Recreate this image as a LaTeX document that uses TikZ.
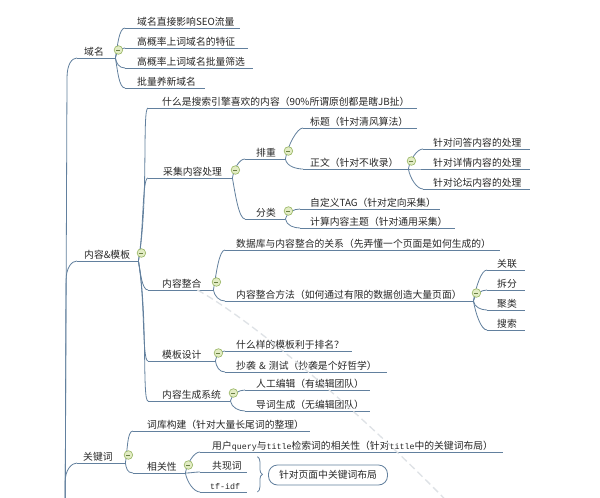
\documentclass[tikz,border=0pt]{standalone}
\usepackage{fontspec}
\setmainfont{Noto Sans CJK SC}
\newfontfamily\monof{Liberation Mono}[Scale=0.85]
\usepackage{tikz}
\usetikzlibrary{decorations.pathreplacing}

\definecolor{branchc}{RGB}{98,128,158}
\definecolor{foldfill}{RGB}{226,236,196}
\definecolor{folddraw}{RGB}{150,180,96}
\definecolor{relc}{RGB}{222,226,230}
\def\tpad{11pt}
\newcommand{\lat}[1]{{\monof #1}}

\tikzset{
	branch/.style={draw=branchc, line width=0.8pt},
	pad/.code={\def\tpad{#1}},
	topic/.style={anchor=south west, inner xsep=0pt, inner ysep=0.5pt,
		text height=8pt, text depth=2pt, text width=#1, align=left,
		text=black!85, font=\fontsize{9.8}{11}\selectfont, pad=11pt,
		execute at begin node=\hspace*{\tpad},
		append after command={(\tikzlastnode.south west) edge[branch] (\tikzlastnode.south east)}},
	kidup/.style={out=80, in=180, out looseness=1, in distance=6pt},
	kiddown/.style={out=-80, in=180, out looseness=1, in distance=6pt},
	kidflat/.style={out=0, in=180},
	trunk/.style={out=90, in=180, out distance=14pt, in distance=5pt},
	fold/.style={draw=folddraw, fill=foldfill, line width=0.6pt},
	foldbar/.style={draw=folddraw!70!black, line width=0.6pt},
	note/.style={draw=branchc, line width=0.8pt, rounded corners=9pt,
		minimum width=119pt, minimum height=20pt, inner sep=0pt,
		text=black!85, font=\fontsize{9.8}{11}\selectfont},
	relation/.style={draw=relc, line width=1.3pt, dash pattern=on 7pt off 4pt},
}

\begin{document}
\begin{tikzpicture}[x=1pt, y=-1pt]
	\useasboundingbox (0,0) rectangle (600,498);
	\fill[white] (0,0) rectangle (600,498);
	\clip (0,0) rectangle (600,498);
	%
	\coordinate (root) at (65,560);
	\coordinate (relend) at (470,525);
	%
	% first level
	\node[topic=38pt, pad=7pt] (dom) at (77,58) {域名};
	\node[topic=61pt, pad=7pt] (cont) at (77,261) {内容\&模板};
	\node[topic=48pt, pad=6pt] (kw) at (77,463) {关键词};
	%
	% domain
	\node[topic=115pt, pad=12pt] (d1) at (125,28) {域名直接影响SEO流量};
	\node[topic=123pt, pad=12pt] (d2) at (125,48) {高概率上词域名的特征};
	\node[topic=128pt, pad=12pt] (d3) at (125,68) {高概率上词域名批量筛选};
	\node[topic=80pt, pad=12pt] (d4) at (125,88) {批量养新域名};
	%
	% content and template
	\node[topic=269pt, pad=14pt] (what) at (148,108) {什么是搜索引擎喜欢的内容（90\%所谓原创都是瞎JB扯）};
	\node[topic=84pt, pad=15pt] (cjcl) at (148,178) {采集内容处理};
	\node[topic=65pt, pad=14pt] (zh) at (148,290) {内容整合};
	\node[topic=67pt, pad=14pt] (mb) at (148,361) {模板设计};
	\node[topic=82pt, pad=14pt] (sc) at (148,401) {内容生成系统};
	%
	\node[topic=40pt] (pc) at (245,159) {排重};
	\node[topic=40pt] (fl) at (245,219) {分类};
	\node[topic=114pt, pad=7pt] (bt) at (303,128) {标题（针对清风算法）};
	\node[topic=105pt, pad=7pt] (zw) at (303,169) {正文（针对不收录）};
	\node[topic=107pt, pad=10pt] (zw1) at (423,149) {针对问答内容的处理};
	\node[topic=107pt, pad=10pt] (zw2) at (423,169) {针对详情内容的处理};
	\node[topic=107pt, pad=10pt] (zw3) at (423,189) {针对论坛内容的处理};
	\node[topic=140pt, pad=10pt] (tag) at (300,209) {自定义TAG（针对定向采集）};
	\node[topic=155pt, pad=10pt] (zt) at (300,228) {计算内容主题（针对通用采集）};
	%
	\node[topic=275pt] (sjk) at (225,250) {数据库与内容整合的关系（先弄懂一个页面是如何生成的）};
	\node[topic=248pt] (zhff) at (225,301) {内容整合方法（如何通过有限的数据创造大量页面）};
	\node[topic=38pt, pad=10pt] (gl) at (487,270) {关联};
	\node[topic=38pt, pad=10pt] (cf) at (487,290) {拆分};
	\node[topic=38pt, pad=10pt] (jl) at (487,310) {聚类};
	\node[topic=38pt, pad=10pt] (ss) at (487,330) {搜索};
	%
	\node[topic=127pt] (mb1) at (225,351) {什么样的模板利于排名？};
	\node[topic=162pt] (mb2) at (225,372) {抄袭~\&~测试（抄袭是个好哲学）};
	\node[topic=125pt] (sc1) at (245,390) {人工编辑（有编辑团队）};
	\node[topic=125pt] (sc2) at (245,411) {导词生成（无编辑团队）};
	%
	% keywords
	\node[topic=177pt, pad=14pt] (ck) at (133,431) {词库构建（针对大量长尾词的整理）};
	\node[topic=52pt, pad=14pt] (xgx) at (133,473) {相关性};
	\node[topic=303pt, pad=12pt] (yh) at (200,452) {用户\lat{query}与\lat{title}检索词的相关性（针对\lat{title}中的关键词布局）};
	\node[topic=47pt, pad=12pt] (gxc) at (200,472) {共现词};
	\node[topic=47pt, pad=10pt] (tfidf) at (200,492) {\lat{tf-idf}};
	\node[note] (bj) at (328,475) {针对页面中关键词布局};
	%
	\path[relation] ([xshift=-16pt]zh.south east) .. controls (255,322) and (370,420) .. (relend);
	%
	\draw[branch] (root) -- ([shift={(-10pt,-20pt)}]dom.south west) to[trunk] (dom.south west);
	\draw[branch] (root) -- ([shift={(-11pt,-20pt)}]cont.south west) to[trunk] (cont.south west);
	\draw[branch] (root) -- ([shift={(-12pt,-20pt)}]kw.south west) to[trunk] (kw.south west);
	%
	\path[branch] (dom.south east) edge[kidup] (d1.south west);
	\path[branch] (dom.south east) edge[kidup] (d2.south west);
	\path[branch] (dom.south east) edge[kiddown] (d3.south west);
	\path[branch] (dom.south east) edge[kiddown] (d4.south west);
	%
	\path[branch] (cont.south east) edge[kidup] (what.south west);
	\path[branch] (cont.south east) edge[kidup] (cjcl.south west);
	\path[branch] (cont.south east) edge[kiddown] (zh.south west);
	\path[branch] (cont.south east) edge[kiddown] (mb.south west);
	\path[branch] (cont.south east) edge[kiddown] (sc.south west);
	\path[branch] (cjcl.south east) edge[kidup] (pc.south west);
	\path[branch] (cjcl.south east) edge[kiddown] (fl.south west);
	\path[branch] (pc.south east) edge[kidup] (bt.south west);
	\path[branch] (pc.south east) edge[kiddown] (zw.south west);
	\path[branch] (zw.south east) edge[kidup] (zw1.south west);
	\path[branch] (zw.south east) edge[kidflat] (zw2.south west);
	\path[branch] (zw.south east) edge[kiddown] (zw3.south west);
	\path[branch] (fl.south east) edge[kidup] (tag.south west);
	\path[branch] (fl.south east) edge[kiddown] (zt.south west);
	\path[branch] (zh.south east) edge[kidup] (sjk.south west);
	\path[branch] (zh.south east) edge[kiddown] (zhff.south west);
	\path[branch] (zhff.south east) edge[kidup] (gl.south west);
	\path[branch] (zhff.south east) edge[kidup] (cf.south west);
	\path[branch] (zhff.south east) edge[kiddown] (jl.south west);
	\path[branch] (zhff.south east) edge[kiddown] (ss.south west);
	\path[branch] (mb.south east) edge[kidup] (mb1.south west);
	\path[branch] (mb.south east) edge[kiddown] (mb2.south west);
	\path[branch] (sc.south east) edge[kidup] (sc1.south west);
	\path[branch] (sc.south east) edge[kiddown] (sc2.south west);
	%
	\path[branch] (kw.south east) edge[kidup] (ck.south west);
	\path[branch] (kw.south east) edge[kiddown] (xgx.south west);
	\path[branch] (xgx.south east) edge[kidup] (yh.south west);
	\path[branch] (xgx.south east) edge[kidflat] (gxc.south west);
	\path[branch] (xgx.south east) edge[kiddown] (tfidf.south west);
	\draw[branch, decorate, decoration={brace, amplitude=5pt}]
		([shift={(10,-4)}]gxc.north east) -- ([xshift=10pt]tfidf.south east);
	%
	\foreach \p in {dom,cont,kw,cjcl,pc,fl,zw,zh,zhff,mb,sc,xgx} {
		\draw[fold] ([shift={(3,-8)}]\p.south east) circle[radius=4.3pt];
		\draw[foldbar] ([shift={(1,-8)}]\p.south east) -- ++(4,0);
	}
\end{tikzpicture}
\end{document}
